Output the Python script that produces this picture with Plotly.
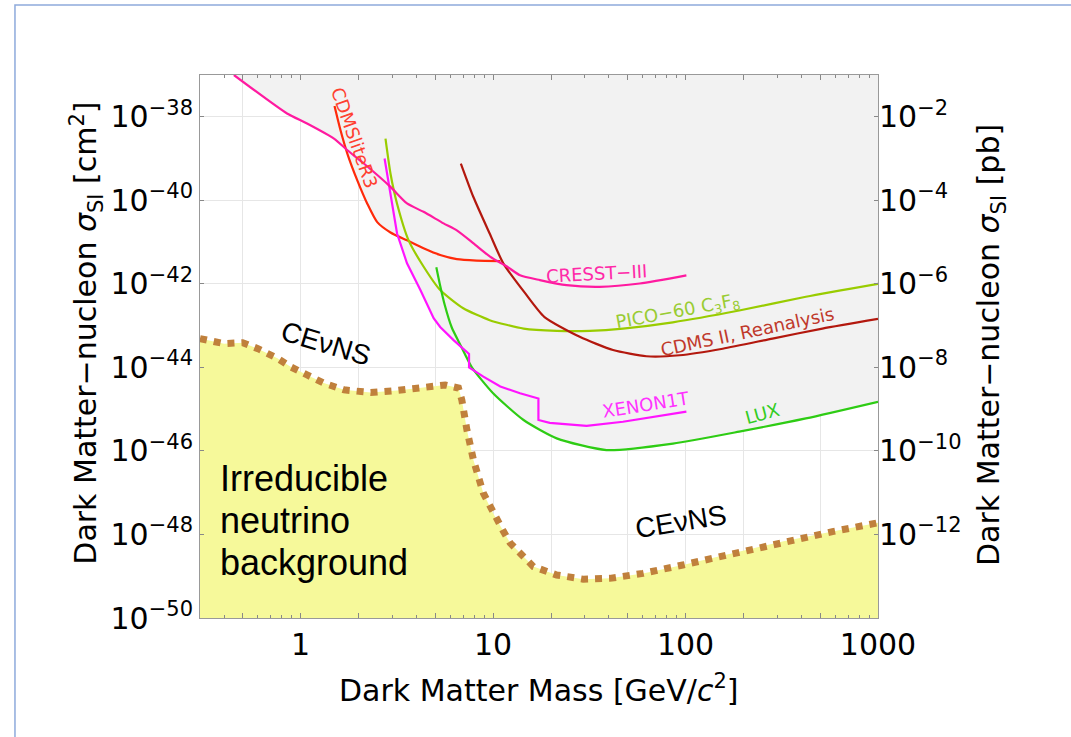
import math
import plotly.graph_objects as go

# ---- Spin-independent WIMP-nucleon limits: mass [GeV/c^2] vs cross section [cm^2] ----
cresst_mass = [0.45, 0.85, 1.08, 1.49, 1.75, 2.13, 2.93, 3.57, 4.35, 5.53, 6.48, 7.91,
               9.64, 11.8, 13.8, 17.5, 24.1, 35.8, 57.8, 101]
cresst_xs = [1.0e-37, 1.2e-38, 6.9e-39, 3.0e-39, 1.58e-39, 7.6e-40, 2.1e-40, 8.4e-41,
             5.3e-41, 2.8e-41, 1.9e-41, 9.3e-42, 4.5e-42, 2.6e-42, 1.6e-42, 1.23e-42,
             9.3e-43, 8.5e-43, 1.02e-42, 1.6e-42]

cdmslite_mass = [1.50, 1.61, 1.75, 1.97, 2.22, 2.50, 2.93, 3.57, 4.35, 5.31, 6.48, 8.2, 10.9]
cdmslite_xs = [1.8e-38, 4.8e-39, 1.3e-39, 3.0e-40, 8.3e-41, 3.0e-41, 1.7e-41, 1.1e-41,
               7.1e-42, 4.9e-42, 3.9e-42, 3.6e-42, 3.5e-42]

pico_mass = [2.76, 2.93, 3.17, 3.64, 4.35, 5.31, 7.0, 9.6, 14.4, 21.4, 31.8, 47.3, 85.9,
             190, 422, 1000]
pico_xs = [3.0e-39, 4.4e-40, 8.3e-41, 1.1e-41, 2.6e-42, 7.1e-43, 2.6e-43, 1.35e-43,
           8.5e-44, 7.5e-44, 7.5e-44, 8.5e-44, 1.2e-43, 2.3e-43, 4.9e-43, 1.0e-42]

cdms2_mass = [6.8, 7.9, 9.6, 11.3, 14.7, 18.5, 28.2, 42.0, 62.6, 93.1, 156, 283, 514, 1000]
cdms2_xs = [7.6e-40, 1.2e-40, 1.6e-41, 3.1e-42, 5.9e-43, 1.6e-43, 5.4e-44, 2.6e-44,
            1.85e-44, 1.95e-44, 2.8e-44, 4.9e-44, 8.5e-44, 1.45e-43]

xenon_mass = [2.73, 2.93, 3.17, 3.57, 4.19, 4.91, 5.31, 6.23, 7.5, 7.5, 8.9, 10.9, 13.8,
              17.2, 17.2, 19.7, 30.6, 47.3, 70.5, 101]
xenon_xs = [1.0e-39, 1.45e-40, 1.6e-41, 3.1e-42, 7.1e-43, 1.5e-43, 9.3e-44, 4.5e-44,
            2.1e-44, 1.0e-44, 6.0e-45, 3.5e-45, 2.4e-45, 1.8e-45, 5.5e-46, 4.7e-46,
            4.0e-46, 5.0e-46, 6.6e-46, 8.7e-46]

lux_mass = [5.07, 5.31, 5.6, 6.1, 6.75, 7.76, 10.0, 14.4, 21.4, 38.8, 86, 190, 422, 1000]
lux_xs = [2.5e-42, 9.0e-43, 3.2e-43, 9.0e-44, 3.5e-44, 1.0e-44, 2.4e-45, 5.5e-46, 2.0e-46,
          1.05e-46, 1.5e-46, 2.9e-46, 6.0e-46, 1.5e-45]

# coherent elastic neutrino-nucleus scattering floor
nu_mass = [0.3, 0.40, 0.50, 0.60, 0.757, 0.887, 1.08, 1.32, 1.68, 2.31, 3.17, 4.53, 5.64,
           6.61, 6.88, 7.31, 7.91, 8.9, 10.0, 11.2, 12.25, 13.8, 16.2, 21.4, 29.4, 40.4,
           60.1, 96.8, 176, 319, 580, 1000]
nu_xs = [4.9e-44, 3.7e-44, 3.9e-44, 2.8e-44, 1.65e-44, 1.03e-44, 6.6e-45, 4.2e-45,
         2.9e-45, 2.5e-45, 2.8e-45, 3.4e-45, 3.8e-45, 3.2e-45, 1.66e-45, 3.2e-46, 6.0e-47,
         9.7e-48, 3.2e-48, 1.3e-48, 6.3e-49, 3.6e-49, 1.7e-49, 1.07e-49, 8.5e-50, 8.9e-50,
         1.17e-49, 1.86e-49, 3.5e-49, 6.8e-49, 1.17e-48, 1.9e-48]

# ---- axes ----
X_MIN, X_MAX = 0.3, 1000
Y_MIN, Y_MAX = 1e-50, 1e-37
PB_IN_CM2 = 1e-36

x_major = [1, 10, 100, 1000]
x_grid_extra = [0.5, 2, 5, 20, 50, 200, 500]
x_minor = [0.3, 0.4, 0.6, 0.7, 0.8, 0.9, 3, 4, 6, 7, 8, 9, 30, 40, 60, 70, 80, 90,
           300, 400, 600, 700, 800, 900]
y_exponents = [-50, -48, -46, -44, -42, -40, -38]
y2_exponents = [-12, -10, -8, -6, -4, -2]

limits = [
    ("CDMSliteR3", cdmslite_mass, cdmslite_xs, "#ff2a0a", "spline"),
    ("PICO-60", pico_mass, pico_xs, "#99cc00", "spline"),
    ("CDMS II", cdms2_mass, cdms2_xs, "#b3180e", "spline"),
    ("LUX", lux_mass, lux_xs, "#2ecc14", "spline"),
    ("XENON1T", xenon_mass, xenon_xs, "#ff14ff", "linear"),
    ("CRESST-III", cresst_mass, cresst_xs, "#ff1aa0", "spline"),
]

fig = go.Figure()

# excluded parameter space: everything above any of the limits
for name, m, s, c, shape in limits:
    fig.add_trace(go.Scatter(
        x=m + [m[-1], m[0]], y=s + [Y_MAX, Y_MAX],
        mode="lines", fill="toself", fillcolor="#f2f2f2",
        line=dict(width=0, color="#f2f2f2"), hoverinfo="skip", showlegend=False))

# neutrino background region
fig.add_trace(go.Scatter(
    x=nu_mass + [nu_mass[-1], nu_mass[0]], y=nu_xs + [Y_MIN, Y_MIN],
    mode="lines", fill="toself", fillcolor="#f6f99a",
    line=dict(width=0, color="#f6f99a"), hoverinfo="skip", showlegend=False))

for name, m, s, c, shape in limits:
    fig.add_trace(go.Scatter(x=m, y=s, mode="lines", name=name,
                             line=dict(color=c, width=2.2, shape=shape, smoothing=0.6),
                             showlegend=False))

# floor drawn against the right-hand axis, in picobarn
fig.add_trace(go.Scatter(x=nu_mass, y=[v / PB_IN_CM2 for v in nu_xs], yaxis="y2",
                         mode="lines", name="CEvNS",
                         line=dict(color="#c0803c", width=7, dash="7px,7px"),
                         showlegend=False))

# ---- text ----
L = math.log10
label_font = "DejaVu Sans"
curve_labels = [
    ("CRESST−III", 34.4, 1.78e-42, -3, "#ff2aa8"),
    ("PICO−60 C<sub>3</sub>F<sub>8</sub>", 91.2, 2.14e-43, -10.5, "#99cc33"),
    ("CDMS II, Reanalysis", 210, 7.1e-44, -12, "#c0392b"),
    ("XENON1T", 62.5, 1.29e-45, -9, "#ff33ff"),
    ("LUX", 251, 7.9e-46, -15, "#33cc22"),
    ("CDMSliteR3", 1.905, 3.2e-39, 70.5, "#ff4030"),
]
for text, xm, ys, ang, col in curve_labels:
    fig.add_annotation(x=L(xm), y=L(ys), xref="x", yref="y", text=text,
                       textangle=ang, showarrow=False,
                       font=dict(family=label_font, size=18, color=col))

for xm, ys, ang in [(1.35, 3.7e-44, 16.6), (95.1, 2.04e-48, -9)]:
    fig.add_annotation(x=L(xm), y=L(ys), xref="x", yref="y", text="CEνNS",
                       textangle=ang, showarrow=False,
                       font=dict(family="Liberation Sans", size=28, color="black"))

for line, ys in [("Irreducible", 2.24e-47), ("neutrino", 2.19e-48), ("background", 2.19e-49)]:
    fig.add_annotation(x=L(0.3715), y=L(ys), xref="x", yref="y", text=line,
                       xanchor="left", yanchor="middle", showarrow=False,
                       font=dict(family="Liberation Sans", size=36, color="black"))

title_font = dict(family="DejaVu Sans", size=30, color="black")
fig.add_annotation(x=0.5, y=-0.129, xref="paper", yref="paper",
                   xanchor="center", yanchor="middle",
                   text="Dark Matter Mass [GeV/<i>c</i><sup>2</sup>]",
                   showarrow=False, font=title_font)
fig.add_annotation(x=-0.167, y=0.525, xref="paper", yref="paper", textangle=-90,
                   xanchor="center", yanchor="middle",
                   text="Dark Matter−nucleon <i>σ</i><sub>SI</sub> [cm<sup>2</sup>]",
                   showarrow=False, font=title_font)
fig.add_annotation(x=1.167, y=0.503, xref="paper", yref="paper", textangle=-90,
                   xanchor="center", yanchor="middle",
                   text="Dark Matter−nucleon <i>σ</i><sub>SI</sub> [pb]",
                   showarrow=False, font=title_font)

# slide frame around the figure
fig.add_shape(type="rect", xref="paper", yref="paper",
              x0=-0.2729, x1=1.35, y0=-0.3, y1=1.1289,
              line=dict(color="#8eaadb", width=1.5), layer="below")

tick_font = dict(family="DejaVu Sans", size=30, color="black")
x_ticks = sorted(x_major + x_grid_extra)
fig.update_layout(
    width=1071, height=737,
    margin=dict(l=200, r=193, t=75, b=119),
    paper_bgcolor="white", plot_bgcolor="white",
    xaxis=dict(
        type="log", range=[L(X_MIN), L(X_MAX)],
        tickmode="array", tickvals=x_ticks,
        ticktext=[str(v) if v in x_major else "" for v in x_ticks],
        ticks="inside", ticklen=5, tickcolor="#888", tickfont=tick_font,
        showgrid=True, gridcolor="#e6e6e6", gridwidth=1,
        showline=True, linecolor="#999", linewidth=1, mirror="ticks",
        minor=dict(tickmode="array", tickvals=x_minor, ticks="inside", ticklen=3,
                   tickcolor="#888", showgrid=False),
        zeroline=False,
    ),
    yaxis=dict(
        type="log", range=[L(Y_MIN), L(Y_MAX)],
        tickmode="array", tickvals=[10.0 ** e for e in y_exponents],
        ticktext=["10<sup>−%d</sup>" % -e for e in y_exponents],
        ticks="inside", ticklen=4, tickcolor="#888", tickfont=tick_font,
        showgrid=True, gridcolor="#e6e6e6", gridwidth=1,
        showline=True, linecolor="#999", linewidth=1, mirror=True,
        zeroline=False,
    ),
    yaxis2=dict(
        type="log", overlaying="y", side="right", anchor="x",
        range=[L(Y_MIN / PB_IN_CM2), L(Y_MAX / PB_IN_CM2)],
        tickmode="array", tickvals=[10.0 ** e for e in y2_exponents],
        ticktext=["10<sup>−%d</sup>" % -e for e in y2_exponents],
        ticks="inside", ticklen=4, tickcolor="#888", tickfont=tick_font,
        showgrid=False, showline=False, zeroline=False,
    ),
)

fig.write_html("out.html")
